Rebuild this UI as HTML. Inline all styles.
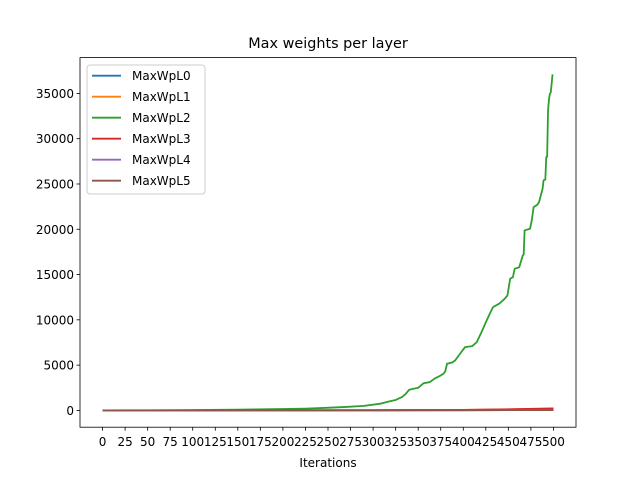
<!DOCTYPE html>
<html><head><meta charset="utf-8"><style>
body{margin:0;background:#fff}
svg{font-family:"DejaVu Sans","Liberation Sans",sans-serif}
</style></head><body>
<svg width="640" height="480" xmlns="http://www.w3.org/2000/svg" id="chart">
<rect width="640" height="480" fill="#fff"/>
<text x="328" y="48" font-size="14.4" text-anchor="middle">Max weights per layer</text>
<g id="plot"></g>
</svg>
<script>
const seriesNames=["MaxWpL0","MaxWpL1","MaxWpL2","MaxWpL3","MaxWpL4","MaxWpL5"];
const colors=["#1f77b4","#ff7f0e","#2ca02c","#d62728","#9467bd","#8c564b"];
const iterL2=[0,50,100,150,200,225,252,270,290,308,318,325,332,336,340,343,350,356,363,368,374,378,380,382,388,391,396,402,410,415,420,426,430,433,440,446,449,452,455,457,462,466,467,468,474,476,478,482,484,488,489,491,492,493,494,495,496,497,499];
const valL2=[0,20,40,80,150,200,300,380,500,740,1000,1150,1470,1800,2280,2350,2500,3000,3130,3500,3800,4050,4300,5150,5300,5520,6200,6990,7100,7540,8600,9940,10800,11400,11800,12330,12700,14540,14700,15640,15800,17110,17200,19870,20060,21000,22450,22700,23000,24500,25390,25500,27970,28000,33120,34300,34970,35100,37100];
const iterSmall=[0,100,200,300,400,450,500];
const valL0=[0,5,10,15,25,35,50];
const valL1=[0,5,10,20,60,110,200];
const valL3=[0,5,10,20,60,120,220];
const valL4=[0,3,6,10,20,30,40];
const valL5=[0,3,6,10,20,30,40];
const xTicks=[0,25,50,75,100,125,150,175,200,225,250,275,300,325,350,375,400,425,450,475,500];
const yTicks=[0,5000,10000,15000,20000,25000,30000,35000];
const L=80,R=576,T=57.6,B=427.2;
const xmin=-25,xmax=525;
const dmax=Math.max(...valL2),dmin=0,rng=dmax-dmin;
const ymin=dmin-0.05*rng,ymax=dmax+0.05*rng;
const X=v=>L+(v-xmin)/(xmax-xmin)*(R-L);
const Y=v=>B-(v-ymin)/(ymax-ymin)*(B-T);
const g=document.getElementById('plot');
const NS="http://www.w3.org/2000/svg";
function mk(t,a){const e=document.createElementNS(NS,t);for(const k in a)e.setAttribute(k,a[k]);g.appendChild(e);return e;}
xTicks.forEach(t=>{
 const l=mk('line',{x1:X(t),x2:X(t),y1:B,y2:B+3.5,stroke:'#000','stroke-width':0.8});
 
 
 const tx=mk('text',{x:X(t),y:B+19,'font-size':12,'text-anchor':'middle'});tx.textContent=t;
 
 
});
yTicks.forEach(t=>{
 const l=mk('line',{x1:L-3.5,x2:L,y1:Y(t),y2:Y(t),stroke:'#000','stroke-width':0.8});
 
 
 const tx=mk('text',{x:L-6,y:Y(t)+4.5,'font-size':12,'text-anchor':'end'});tx.textContent=t;
 
 
});
const series=[[iterSmall,valL0],[iterSmall,valL1],[iterL2,valL2],[iterSmall,valL3],[iterSmall,valL4],[iterSmall,valL5]];
[0,1,2,3,4,5].forEach(i=>{
 const [xs,ys]=series[i];
 const p=mk('polyline',{points:xs.map((x,j)=>X(x)+','+Y(ys[j])).join(' '),fill:'none',stroke:colors[i],'stroke-width':1.8,'stroke-linejoin':'round'});
 
 
});
const fr=mk('rect',{x:L,y:T,width:R-L,height:B-T,fill:'none',stroke:'#000','stroke-width':0.8});


const xl=mk('text',{x:(L+R)/2,y:467,'font-size':12,'text-anchor':'middle'});xl.textContent='Iterations';


const lg=mk('rect',{x:87,y:65,width:118,height:129,rx:3,fill:'#fff','fill-opacity':0.8,stroke:'#ccc','stroke-width':1});


seriesNames.forEach((n,i)=>{
 const y=75.7+i*21;
 const ln=mk('line',{x1:92,x2:121,y1:y,y2:y,stroke:colors[i],'stroke-width':1.8});
 
 
 const t=mk('text',{x:132,y:y+4.5,'font-size':12});t.textContent=n;
 
 
});
</script>
</body></html>
